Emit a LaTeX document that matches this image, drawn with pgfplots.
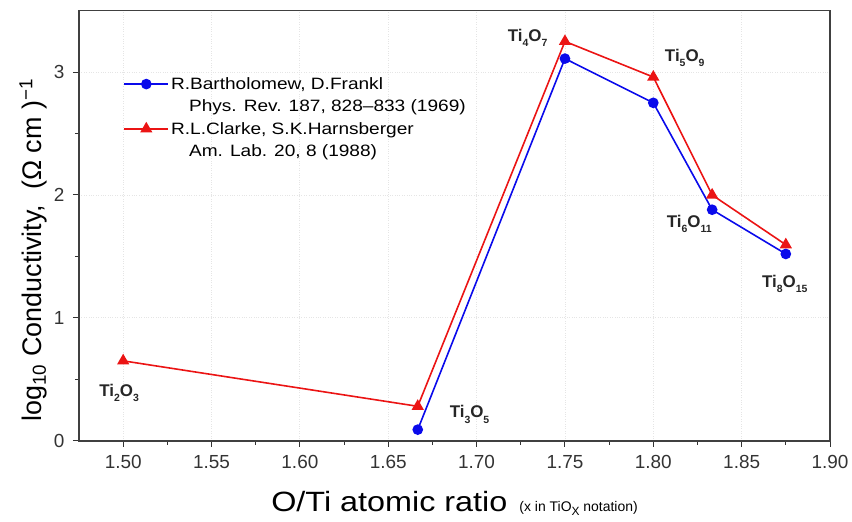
\documentclass[border=0pt]{standalone}
\usepackage{fontspec}
\setmainfont{Liberation Sans}
\newfontfamily\widefont{Liberation Sans}[FakeStretch=1.16]
\usepackage{pgfplots}
\pgfplotsset{compat=1.18}
\definecolor{myblue}{RGB}{10,10,235}
\definecolor{myred}{RGB}{235,20,20}
\newcommand\sub[1]{\raisebox{-5.5bp}{\fontsize{10.5}{10.5}\selectfont #1}}
\begin{document}
\begin{tikzpicture}
\begin{axis}[
  scale only axis, width=751bp, height=430bp,
  xmin=1.475, xmax=1.90, ymin=0, ymax=3.5,
  xtick={1.50,1.55,1.60,1.65,1.70,1.75,1.80,1.85,1.90},
  ytick={0,1,2,3},
  minor x tick num=1, minor y tick num=1,
  tick pos=left, tick align=outside,
  major tick length=6bp, minor tick length=4bp,
  tick style={black!80, line width=1bp},
  axis line style={black!75, line width=1.6bp},
  grid=major,
  major grid style={black!10, dotted, line width=0.8bp},
  /pgf/number format/assume math mode=true,
  ticklabel style={font=\fontsize{19}{19}\selectfont, text=black!80},
  xticklabel style={yshift=-5bp, /pgf/number format/fixed, /pgf/number format/fixed zerofill, /pgf/number format/precision=2},
  yticklabel style={xshift=-5bp},
  every axis y label/.style={at={(axis description cs:-0.061,0.443)}, rotate=90, anchor=center},
  every axis x label/.style={at={(axis description cs:0.5,-0.165)}, anchor=base},
  xlabel={{\widefont\fontsize{28}{28}\selectfont O/Ti atomic ratio}\hspace{12bp}{\fontsize{14}{14}\selectfont (x in TiO\raisebox{-4bp}{\fontsize{12}{12}\selectfont X} notation)}},
  ylabel={\fontsize{27}{27}\selectfont log\textsubscript{10} Conductivity,\ \ (Ω cm )\textsuperscript{−1}},
  clip=false,
  legend style={draw=none, fill=none, at={(axis description cs:0.059,0.85)}, anchor=north west,
    font=\widefont\fontsize{16.5}{16.5}\selectfont, row sep=5bp, inner sep=0pt},
  legend cell align=left,
  legend image code/.code={\draw[mark repeat=2,mark phase=2,#1] plot coordinates {(0bp,0bp)(22bp,0bp)(44bp,0bp)};},
]
\addplot[myblue, line width=1.6bp, mark=*, mark size=4.5bp, mark options={solid, fill=myblue}, forget plot]
  coordinates {(1.6667,0.09) (1.75,3.11) (1.80,2.75) (1.8333,1.88) (1.875,1.52)};
\addplot[myred, line width=1.6bp, mark=triangle*, mark size=5.5bp, mark options={solid, fill=myred}, forget plot]
  coordinates {(1.50,0.65) (1.6667,0.28) (1.75,3.25) (1.80,2.96) (1.8333,2.00) (1.875,1.595)};
\addlegendimage{myblue, line width=1.6bp, mark=*, mark size=4.5bp, mark options={solid, fill=myblue}}
\addlegendentry{R.Bartholomew, D.Frankl}
\addlegendimage{empty legend}
\addlegendentry{\hspace*{18bp}Phys. Rev. 187, 828–833 (1969)}
\addlegendimage{myred, line width=1.6bp, mark=triangle*, mark size=5.5bp, mark options={solid, fill=myred}}
\addlegendentry{R.L.Clarke, S.K.Harnsberger}
\addlegendimage{empty legend}
\addlegendentry{\hspace*{18bp}Am. Lab. 20, 8 (1988)}

\begin{scope}[every node/.style={font=\bfseries\fontsize{17}{17}\selectfont, text=black!85, inner sep=0pt, anchor=base west}]
\node at (axis cs:1.4864,0.36) {Ti\sub{2}O\sub{3}};
\node at (axis cs:1.6847,0.187) {Ti\sub{3}O\sub{5}};
\node at (axis cs:1.7176,3.25) {Ti\sub{4}O\sub{7}};
\node at (axis cs:1.8065,3.09) {Ti\sub{5}O\sub{9}};
\node at (axis cs:1.8076,1.738) {Ti\sub{6}O\sub{11}};
\node at (axis cs:1.8615,1.251) {Ti\sub{8}O\sub{15}};
\end{scope}
\end{axis}
\pgfresetboundingbox
\path ([shift={(-79bp,-81bp)}]current axis.south west) rectangle ([shift={(22bp,10.7bp)}]current axis.north east);
\end{tikzpicture}
\end{document}
